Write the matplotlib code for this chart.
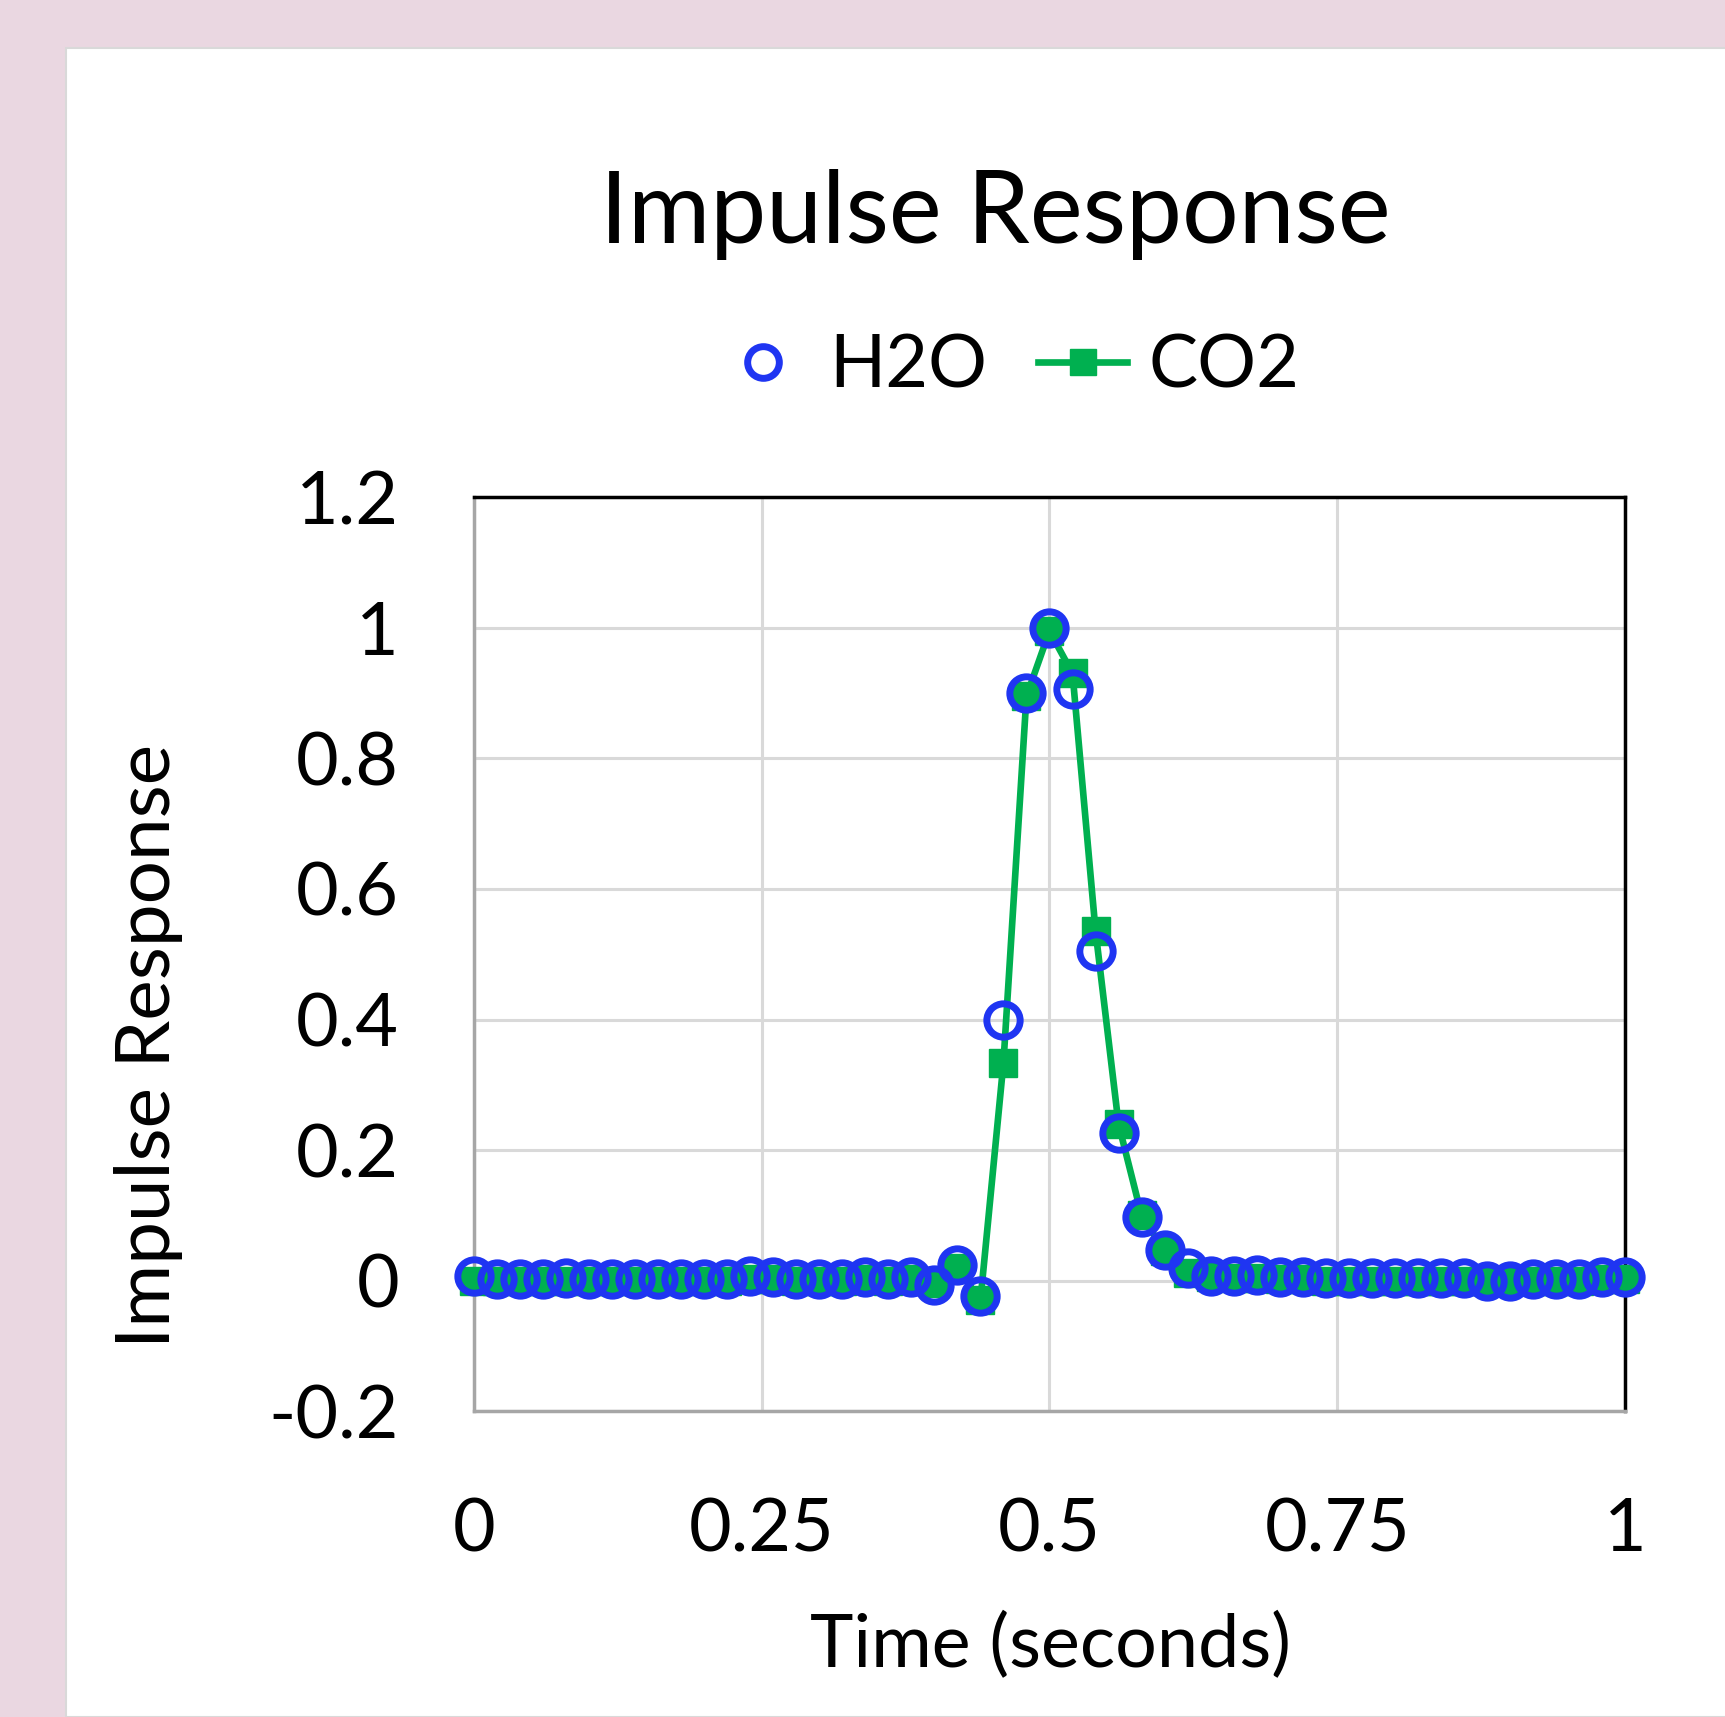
import numpy as np
import matplotlib
matplotlib.use("Agg")
import matplotlib.pyplot as plt
from matplotlib.patches import Rectangle

plt.rcParams['font.family'] = ['Lato', 'DejaVu Sans']

# time axis, one sample every 0.02 s
time = np.round(np.arange(0, 1.0001, 0.02), 2)

h2o = [0.008, 0.003, 0.003, 0.003, 0.004, 0.003, 0.003, 0.003, 0.003, 0.003,
       0.003, 0.003, 0.007, 0.006, 0.002, 0.002, 0.003, 0.005, 0.002, 0.006,
       -0.006, 0.024, -0.024, 0.40, 0.90, 1.0, 0.906, 0.505, 0.227, 0.098,
       0.047, 0.02, 0.008, 0.008, 0.009, 0.005, 0.005, 0.004, 0.004, 0.004,
       0.004, 0.004, 0.004, 0.004, 0.0, 0.0, 0.002, 0.002, 0.002, 0.006, 0.006]

co2 = [0.0, 0.0, 0.0, 0.0, 0.0, 0.0, 0.0, 0.0, 0.0, 0.0,
       0.0, 0.0, 0.002, 0.002, 0.0, 0.0, 0.0, 0.002, 0.0, 0.003,
       -0.003, 0.02, -0.03, 0.334, 0.895, 0.995, 0.93, 0.536, 0.24, 0.10,
       0.045, 0.012, 0.005, 0.004, 0.004, 0.002, 0.002, 0.0, 0.0, 0.0,
       0.0, 0.0, 0.0, 0.0, 0.0, 0.0, 0.0, 0.0, 0.0, 0.002, 0.002]

x_ticks = [0, 0.25, 0.5, 0.75, 1]
x_labels = ['0', '0.25', '0.5', '0.75', '1']
y_ticks = [-0.2, 0, 0.2, 0.4, 0.6, 0.8, 1, 1.2]
y_labels = ['-0.2', '0', '0.2', '0.4', '0.6', '0.8', '1', '1.2']

blue = '#1F35F2'
green = '#00B050'

fig = plt.figure(figsize=(17.25, 17.17), dpi=100)
fig.patch.set_facecolor('#EAD7E1')
fig.patches.append(Rectangle((0.0383, 0), 1.0, 0.972, transform=fig.transFigure,
                             facecolor='white', edgecolor='#D9D9D9', linewidth=1.5, zorder=-5))

ax = fig.add_axes([0.2748, 0.178, 0.942 - 0.2748, 0.7105 - 0.178])
ax.set_facecolor('white')

ax.plot(time, co2, color=green, linewidth=4.8, marker='s', markersize=20,
        markerfacecolor=green, markeredgecolor=green, label='CO2', zorder=3,
        clip_on=False)
ax.plot(time, h2o, linestyle='none', marker='o', markersize=24,
        markerfacecolor='none', markeredgecolor=blue, markeredgewidth=5,
        label='H2O', zorder=4, clip_on=False)

ax.set_xlim(0, 1)
ax.set_ylim(-0.2, 1.2)
ax.set_xticks(x_ticks)
ax.set_xticklabels(x_labels)
ax.set_yticks(y_ticks)
ax.set_yticklabels(y_labels)
ax.tick_params(axis='x', length=0, pad=62, labelsize=53)
ax.tick_params(axis='y', length=0, pad=54, labelsize=53)
ax.grid(True, color='#D9D9D9', linewidth=2.2)
ax.set_axisbelow(True)

ax.spines['left'].set_color('#A6A6A6')
ax.spines['bottom'].set_color('#A6A6A6')
ax.spines['top'].set_color('black')
ax.spines['right'].set_color('black')
for s in ax.spines.values():
    s.set_linewidth(2.5)

handles, labels = ax.get_legend_handles_labels()
fig.legend(handles[::-1], labels[::-1], loc='center', bbox_to_anchor=(0.585, 0.786),
           ncol=2, frameon=False, fontsize=53, markerscale=0.95,
           handlelength=1.2, handletextpad=0.3, columnspacing=0.7)

fig.text(0.577, 0.875, 'Impulse Response', ha='center', va='center', fontsize=72)
fig.text(0.609, 0.041, 'Time (seconds)', ha='center', va='center', fontsize=53)
fig.text(0.086, 0.391, 'Impulse Response', ha='center', va='center',
         rotation=90, fontsize=55)

fig.savefig('out.png', dpi=100, facecolor=fig.get_facecolor())
